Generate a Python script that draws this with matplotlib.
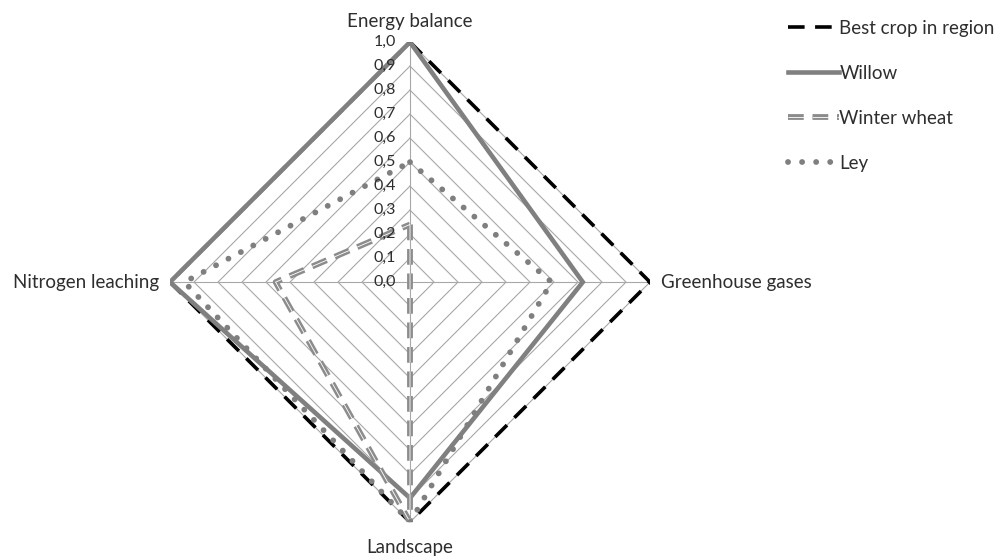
import numpy as np
import matplotlib
matplotlib.use("Agg")
import matplotlib.pyplot as plt
from matplotlib.lines import Line2D
import matplotlib.patheffects as pe

plt.rcParams['font.family'] = ['Lato', 'DejaVu Sans']

categories = ['Energy balance', 'Greenhouse gases', 'Landscape', 'Nitrogen leaching']
best_crop = [1.0, 1.0, 1.0, 1.0]
willow = [1.0, 0.72, 0.9, 1.0]
winter_wheat = [0.24, 0.0, 1.0, 0.56]
ley = [0.5, 0.59, 1.0, 0.94]
series_names = ['Best crop in region', 'Willow', 'Winter wheat', 'Ley']
tick_values = [round(0.1 * i, 1) for i in range(11)]
tick_labels = [f"{v:.1f}".replace('.', ',') for v in tick_values]

text_color = '#2e2e2e'
grid_color = '#a8a8a8'

fig = plt.figure(figsize=(10, 5.59), dpi=100)
ax = fig.add_axes([0.17, 0.066, 0.48, 0.8587], projection='polar')
ax.set_theta_offset(np.pi / 2)
ax.set_theta_direction(-1)
ax.set_ylim(0, 1)
ax.grid(False)
ax.spines['polar'].set_visible(False)
ax.set_xticks([])
ax.set_yticks([])
ax.patch.set_alpha(0)

n = len(categories)
theta = np.arange(n) * 2 * np.pi / n
theta_c = np.append(theta, theta[0])

# polygon grid
for v in tick_values[1:]:
    ax.plot(theta_c, [v] * (n + 1), color=grid_color, lw=0.8, zorder=1)
for t in theta:
    ax.plot([t, t], [0, 1], color=grid_color, lw=0.8, zorder=1)

def closed(vals):
    return np.append(vals, vals[0])

best_style = dict(color='black', lw=2.6, dashes=(4.6, 2.9))
willow_style = dict(color='#808080', lw=3.3)
wheat_style = dict(color='#8c8c8c', lw=4.2, dashes=(2.7, 1.5),
                   path_effects=[pe.Stroke(linewidth=4.2, foreground='#8c8c8c'),
                                 pe.Stroke(linewidth=0.6, foreground='white')])
ley_style = dict(color='#7f7f7f', lw=4.2, dashes=(0.01, 2.4), dash_capstyle='round')

ax.plot(theta_c, closed(best_crop), zorder=3, **best_style)
ax.plot(theta_c, closed(willow), zorder=4, solid_joinstyle='miter', **willow_style)
ax.plot(theta_c, closed(winter_wheat), zorder=5, **wheat_style)
ax.plot(theta_c, closed(ley), zorder=7, **ley_style)

# tick labels
for v, lbl in zip(tick_values, tick_labels):
    ax.annotate(lbl, xy=(0, v), xytext=(-10, 0), textcoords='offset points',
                ha='right', va='center', fontsize=11.5, color=text_color, zorder=8)

# category labels
fs = 13.5
ax.annotate(categories[0], xy=(theta[0], 1), xytext=(0, 9), textcoords='offset points',
            ha='center', va='bottom', fontsize=fs, color=text_color)
ax.annotate(categories[1], xy=(theta[1], 1), xytext=(8, 0), textcoords='offset points',
            ha='left', va='center', fontsize=fs, color=text_color)
ax.annotate(categories[2], xy=(theta[2], 1), xytext=(0, -12), textcoords='offset points',
            ha='center', va='top', fontsize=fs, color=text_color)
ax.annotate(categories[3], xy=(theta[3], 1), xytext=(-8, 0), textcoords='offset points',
            ha='right', va='center', fontsize=fs, color=text_color)

# legend
h1 = Line2D([], [], **best_style)
h2 = Line2D([], [], **willow_style)
h3 = Line2D([], [], **wheat_style)
h4 = Line2D([], [], **ley_style)
leg = fig.legend([h1, h2, h3, h4], series_names, loc='upper left',
                 bbox_to_anchor=(0.771, 0.995), frameon=False, fontsize=fs,
                 handlelength=2.7, handletextpad=0.05, labelspacing=1.5,
                 labelcolor=text_color)

fig.savefig('out.png', dpi=100)
